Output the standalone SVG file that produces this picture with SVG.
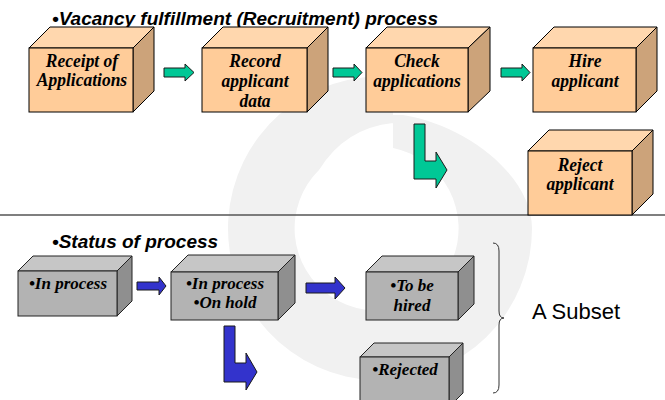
<svg xmlns="http://www.w3.org/2000/svg" width="665" height="400" viewBox="0 0 665 400">
<style>
.of{fill:#ffcc99;stroke:#000;stroke-width:1}
.ot{fill:#ffd7ae;stroke:#000;stroke-width:1}
.os{fill:#cca37a;stroke:#000;stroke-width:1}
.gf{fill:#b3b3b3;stroke:#222;stroke-width:1}
.gt{fill:#c6c6c6;stroke:#222;stroke-width:1}
.gs{fill:#8f8f8f;stroke:#222;stroke-width:1}
.bt{font-family:"Liberation Serif","Times New Roman",serif;font-weight:bold;font-style:italic;fill:#000;text-anchor:middle}
.ob{font-size:17.5px}
.gb{font-size:17px}
.h{font-family:"Liberation Sans",Arial,sans-serif;font-weight:bold;font-style:italic;font-size:19px;fill:#000}
.ga{fill:#00c896;stroke:#1a1a1a;stroke-width:1}
.ba{fill:#3333cc;stroke:#1a1a1a;stroke-width:1}
</style>
<rect width="665" height="400" fill="#fff"/>
<path id="watermark" fill="#f1f1f1" d="M393 77 A152 152 0 1 0 532 228 C532 178 470 126 403 115 L393 115 L393 148 A82 82 0 1 1 319 170 Q345 128 393 123 Z"/>
<line x1="0" y1="215" x2="665" y2="215" stroke="#555" stroke-width="1.5"/>
<text class="h" x="52" y="25">•Vacancy fulfillment (Recruitment) process</text>
<text class="h" x="52" y="248">•Status of process</text>
<g id="receipt">
<polygon class="ot" points="29,48 50,27 154,27 133,48"/>
<polygon class="os" points="133,48 154,27 154,91 133,112"/>
<rect class="of" x="29" y="48" width="104" height="64"/>
<text class="bt ob" transform="translate(82 67) scale(1 1.1)">Receipt of</text>
<text class="bt ob" transform="translate(82 86) scale(1 1.1)">Applications</text>
</g>
<g id="record">
<polygon class="ot" points="202,48 223,27 328,27 307,48"/>
<polygon class="os" points="307,48 328,27 328,91 307,112"/>
<rect class="of" x="202" y="48" width="105" height="64"/>
<text class="bt ob" transform="translate(255 67) scale(1 1.1)">Record</text>
<text class="bt ob" transform="translate(255 87) scale(1 1.1)">applicant</text>
<text class="bt ob" transform="translate(255 107) scale(1 1.1)">data</text>
</g>
<g id="check">
<polygon class="ot" points="366,48 387,27 490,27 468,48"/>
<polygon class="os" points="468,48 490,27 490,91 468,112"/>
<rect class="of" x="366" y="48" width="102" height="64"/>
<text class="bt ob" transform="translate(417 67) scale(1 1.1)">Check</text>
<text class="bt ob" transform="translate(417 87) scale(1 1.1)">applications</text>
</g>
<g id="hire">
<polygon class="ot" points="533,48 554,27 657,27 636,48"/>
<polygon class="os" points="636,48 657,27 657,91 636,112"/>
<rect class="of" x="533" y="48" width="103" height="64"/>
<text class="bt ob" transform="translate(585 67) scale(1 1.1)">Hire</text>
<text class="bt ob" transform="translate(585 87) scale(1 1.1)">applicant</text>
</g>
<g id="reject">
<polygon class="ot" points="528,151 549,130 653,130 632,151"/>
<polygon class="os" points="632,151 653,130 653,194 632,215"/>
<rect class="of" x="528" y="151" width="104" height="64"/>
<text class="bt ob" transform="translate(580 171) scale(1 1.1)">Reject</text>
<text class="bt ob" transform="translate(580 190) scale(1 1.1)">applicant</text>
</g>
<g id="inprocess">
<polygon class="gt" points="18,271 33,256 132,256 117,271"/>
<polygon class="gs" points="117,271 132,256 132,301 117,316"/>
<rect class="gf" x="18" y="271" width="99" height="45"/>
<text class="bt gb" x="68" y="289">•In process</text>
</g>
<g id="onhold">
<polygon class="gt" points="171,272 188,255 295,255 278,272"/>
<polygon class="gs" points="278,272 295,255 295,303 278,320"/>
<rect class="gf" x="171" y="272" width="107" height="48"/>
<text class="bt gb" x="225" y="289">•In process</text>
<text class="bt gb" x="225" y="308">•On hold</text>
</g>
<g id="tobehired">
<polygon class="gt" points="366,272 382,256 474,256 458,272"/>
<polygon class="gs" points="458,272 474,256 474,304 458,320"/>
<rect class="gf" x="366" y="272" width="92" height="48"/>
<text class="bt gb" x="412" y="291">•To be</text>
<text class="bt gb" x="412" y="311">hired</text>
</g>
<g id="rejected">
<polygon class="gt" points="360,357 374,343 463,343 449,357"/>
<polygon class="gs" points="449,357 463,343 463,393 449,407"/>
<rect class="gf" x="360" y="357" width="89" height="50"/>
<text class="bt gb" x="405" y="375">•Rejected</text>
</g>
<g id="connectors">
<polygon class="ga" points="164,68 185,68 185,64 194,72.5 185,81 185,77 164,77"/>
<polygon class="ga" points="333,68 354,68 354,64 362,72.5 354,81 354,77 333,77"/>
<polygon class="ga" points="501,68 522,68 522,64 530,72.5 522,81 522,77 501,77"/>
<polygon class="ga" points="414,124 425,124 425,161 436,161 436,152 447,170 436,188 436,179 414,179"/>
<polygon class="ba" points="137,282 159,282 159,277 166,286 159,295 159,290 137,290"/>
<polygon class="ba" points="306,283 335,283 335,277 345,288 335,299 335,293 306,293"/>
<polygon class="ba" points="224,326 235,326 235,363 246,363 246,353 257,372 246,390 246,382 224,382"/>
</g>
<g id="subset">
<path d="M493 243 Q499 243 499 251 L499 311 Q499 318 504 318 Q499 318 499 325 L499 385 Q499 393 493 393" fill="none" stroke="#333" stroke-width="1"/>
<text x="532" y="319" font-family="Liberation Sans, Arial, sans-serif" font-size="22" fill="#000">A Subset</text>
</g>
</svg>
